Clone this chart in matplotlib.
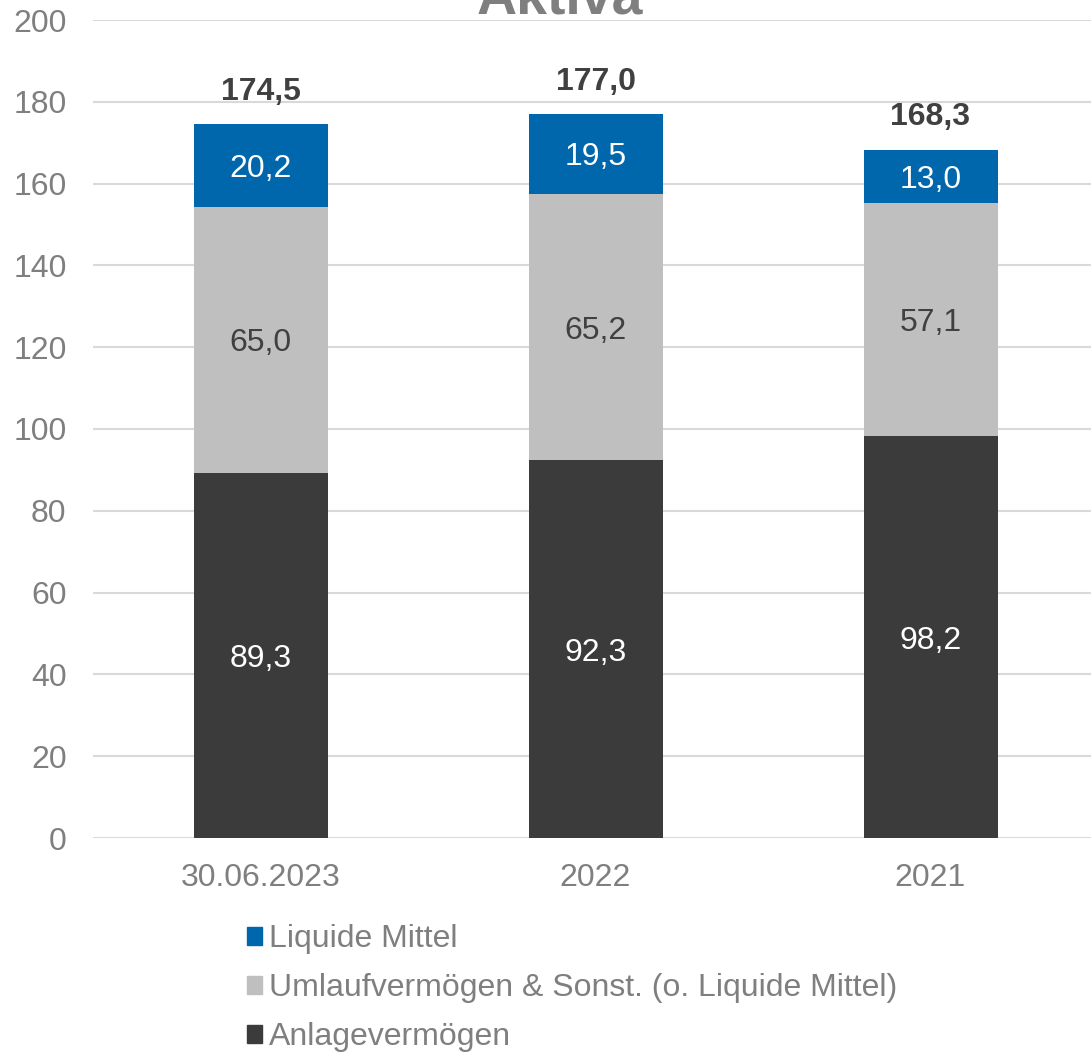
import matplotlib
matplotlib.use("Agg")
import matplotlib.pyplot as plt
from matplotlib.patches import Patch

plt.rcParams['font.family'] = ['Liberation Sans', 'DejaVu Sans']

categories = ["30.06.2023", "2022", "2021"]
anlage = [89.3, 92.3, 98.2]
umlauf = [65.0, 65.2, 57.1]
liquide = [20.2, 19.5, 13.0]
totals = [174.5, 177.0, 168.3]
yticks = [0, 20, 40, 60, 80, 100, 120, 140, 160, 180, 200]

c_dark = "#3B3B3B"
c_gray = "#BFBFBF"
c_blue = "#0067AC"
c_text = "#7F7F7F"

W, H = 1091, 1053
fig = plt.figure(figsize=(W / 100, H / 100), dpi=100)
left = 93 / W
width = 1005 / W
bottom = (H - 838) / H
top = (H - 20) / H
ax = fig.add_axes([left, bottom, width, top - bottom])

x = list(range(len(categories)))
bw = 0.4
ax.bar(x, anlage, bw, color=c_dark, zorder=3)
ax.bar(x, umlauf, bw, bottom=anlage, color=c_gray, zorder=3)
base3 = [a + u for a, u in zip(anlage, umlauf)]
ax.bar(x, liquide, bw, bottom=base3, color=c_blue, zorder=3)

fs = 23
va = "center_baseline"
for i in x:
    ax.text(i, anlage[i] / 2, f"{anlage[i]:.1f}".replace(".", ","), ha="center", va=va,
            color="white", fontsize=fs, zorder=4)
    ax.text(i, anlage[i] + umlauf[i] / 2, f"{umlauf[i]:.1f}".replace(".", ","), ha="center", va=va,
            color="#404040", fontsize=fs, zorder=4)
    ax.text(i, base3[i] + liquide[i] / 2, f"{liquide[i]:.1f}".replace(".", ","), ha="center", va=va,
            color="white", fontsize=fs, zorder=4)
    ax.annotate(f"{totals[i]:.1f}".replace(".", ","), (i, base3[i] + liquide[i]),
                xytext=(0, 36), textcoords="offset pixels", ha="center", va=va,
                color="#404040", fontsize=fs, fontweight="bold", zorder=4)

ax.set_xlim(-0.5, 2.5)
ax.set_ylim(0, 200)
ax.set_yticks(yticks)
ax.set_xticks(x)
ax.set_xticklabels(categories)
ax.yaxis.grid(True, color="#D9D9D9", linewidth=1.5, zorder=0)
ax.set_axisbelow(True)
for s in ax.spines.values():
    s.set_visible(False)
ax.tick_params(axis="both", length=0, labelsize=fs, colors=c_text)
ax.tick_params(axis="y", pad=19)
ax.tick_params(axis="x", pad=18)

fig.text(560 / W, 1 - 14 / H, "Aktiva", ha="center", va="baseline", fontsize=40,
         fontweight="bold", color=c_text)

handles = [Patch(color=c_blue), Patch(color=c_gray), Patch(color=c_dark)]
labels = ["Liquide Mittel", "Umlaufvermögen & Sonst. (o. Liquide Mittel)", "Anlagevermögen"]
leg = fig.legend(handles, labels, loc="upper left", bbox_to_anchor=(247 / W, 1 - 924 / H),
                 frameon=False, fontsize=fs, handlelength=0.48, handleheight=0.48,
                 handletextpad=0.2, labelspacing=0.6, borderpad=0, borderaxespad=0)
for t in leg.get_texts():
    t.set_color(c_text)

fig.savefig("out.png", dpi=100)
